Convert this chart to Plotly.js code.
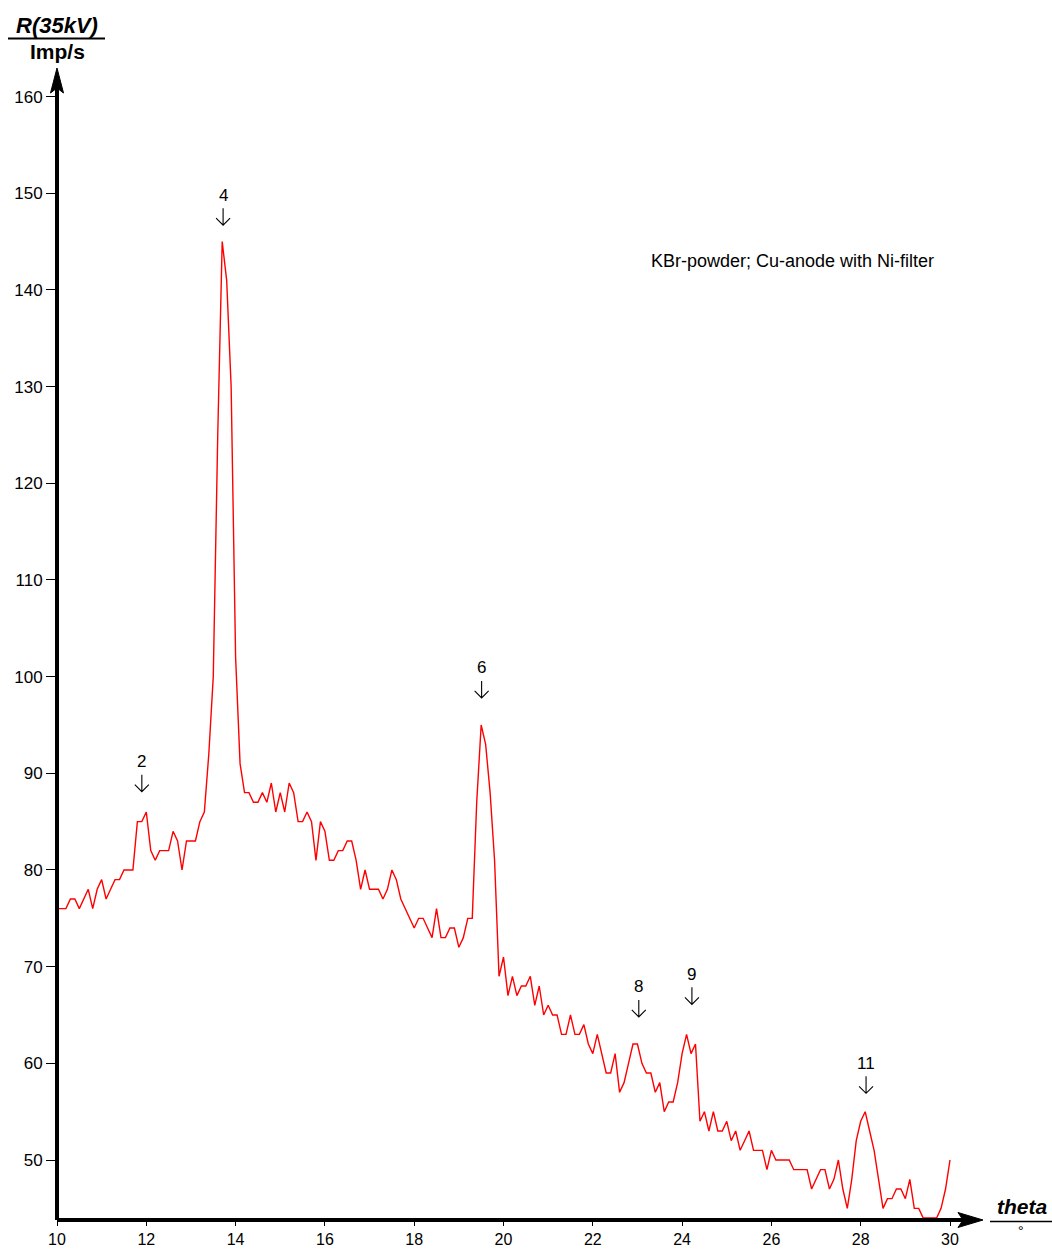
<!DOCTYPE html>
<html>
<head>
<meta charset="utf-8">
<script src="https://cdn.plot.ly/plotly-3.0.1.min.js"></script>
<style>html,body{margin:0;padding:0;background:#fff;}#chart{width:1052px;height:1250px;}</style>
</head>
<body>
<div id="chart"></div>
<script>
// ---- data ----
const theta0 = 10;        // first angle, degrees
const thetaStep = 0.1;    // angle step, degrees
const rate = [
  76, 76, 76, 77, 77, 76, 77, 78, 76, 78,   // 10.0 - 10.9
  79, 77, 78, 79, 79, 80, 80, 80, 85, 85,   // 11
  86, 82, 81, 82, 82, 82, 84, 83, 80, 83,   // 12
  83, 83, 85, 86, 92, 100, 125, 145, 141, 130, // 13
  102, 91, 88, 88, 87, 87, 88, 87, 89, 86,  // 14
  88, 86, 89, 88, 85, 85, 86, 85, 81, 85,   // 15
  84, 81, 81, 82, 82, 83, 83, 81, 78, 80,   // 16
  78, 78, 78, 77, 78, 80, 79, 77, 76, 75,   // 17
  74, 75, 75, 74, 73, 76, 73, 73, 74, 74,   // 18
  72, 73, 75, 75, 87, 95, 93, 88, 81, 69,   // 19
  71, 67, 69, 67, 68, 68, 69, 66, 68, 65,   // 20
  66, 65, 65, 63, 63, 65, 63, 63, 64, 62,   // 21
  61, 63, 61, 59, 59, 61, 57, 58, 60, 62,   // 22
  62, 60, 59, 59, 57, 58, 55, 56, 56, 58,   // 23
  61, 63, 61, 62, 54, 55, 53, 55, 53, 53,   // 24
  54, 52, 53, 51, 52, 53, 51, 51, 51, 49,   // 25
  51, 50, 50, 50, 50, 49, 49, 49, 49, 47,   // 26
  48, 49, 49, 47, 48, 50, 47, 45, 48, 52,   // 27
  54, 55, 53, 51, 48, 45, 46, 46, 47, 47,   // 28
  46, 48, 45, 45, 44, 44, 44, 44, 45, 47,   // 29
  50                                        // 30.0
];
const xTickVals = [10, 12, 14, 16, 18, 20, 22, 24, 26, 28, 30];
const yTickVals = [50, 60, 70, 80, 90, 100, 110, 120, 130, 140, 150, 160];
const peakLabels = ['2', '4', '6', '8', '9', '11'];
const peakTheta  = [11.9, 13.72, 19.51, 23.03, 24.22, 28.12];
const peakArrowTip = [88.1, 146.7, 97.8, 64.8, 66.1, 56.9];
const noteText = 'KBr-powder; Cu-anode with Ni-filter';

// ---- layout geometry ----
const W = 1052, H = 1250;
const M = {l: 57, r: 69, t: 68, b: 30};
const plotW = W - M.l - M.r, plotH = H - M.t - M.b;
const pxPerDeg = 44.65, pxPerUnit = 9.667;
const xMax = 10 + plotW / pxPerDeg;
const yMin = 50 - (H - M.b - 1160) / pxPerUnit;
const yMax = yMin + plotH / pxPerUnit;
const px = v => (v - M.l) / plotW;
const py = v => (H - M.b - v) / plotH;
const P = (a, b) => px(a).toFixed(5) + ',' + py(b).toFixed(5);

const FONT = 'Liberation Sans, Arial, sans-serif';

const trace = {
  type: 'scatter', mode: 'lines',
  x0: theta0, dx: thetaStep, y: rate,
  line: {color: 'rgb(255,0,0)', width: 1.4},
  hoverinfo: 'skip', showlegend: false
};

const shapes = [
  {type: 'line', xref: 'paper', yref: 'paper', x0: 0, x1: 0, y0: 0, y1: py(85), line: {color: '#000', width: 4}},
  {type: 'line', xref: 'paper', yref: 'paper', x0: 0, x1: px(968), y0: 0, y1: 0, line: {color: '#000', width: 4}},
  {type: 'path', xref: 'paper', yref: 'paper',
   path: 'M' + P(57, 68) + ' L' + P(50.5, 93) + ' L' + P(57, 88) + ' L' + P(63.5, 93) + ' Z',
   fillcolor: '#000', line: {color: '#000', width: 1}},
  {type: 'path', xref: 'paper', yref: 'paper',
   path: 'M' + P(983, 1220) + ' L' + P(958, 1212.5) + ' L' + P(963, 1220) + ' L' + P(958, 1227.5) + ' Z',
   fillcolor: '#000', line: {color: '#000', width: 1}},
  {type: 'line', xref: 'paper', yref: 'paper', x0: px(8), x1: px(105), y0: py(38.5), y1: py(38.5), line: {color: '#000', width: 2}},
  {type: 'line', xref: 'paper', yref: 'paper', x0: px(990), x1: px(1052), y0: py(1221.5), y1: py(1221.5), line: {color: '#000', width: 1.5}}
];

const annotations = [
  {xref: 'paper', yref: 'paper', x: px(57), y: py(25), text: 'R(35kV)', showarrow: false,
   xanchor: 'center', yanchor: 'middle', font: {family: FONT, size: 22, color: '#000', style: 'italic', weight: 'bold'}},
  {xref: 'paper', yref: 'paper', x: px(57), y: py(51), text: 'Imp/s', showarrow: false,
   xanchor: 'center', yanchor: 'middle', font: {family: FONT, size: 21, color: '#000', weight: 'bold'}},
  {xref: 'paper', yref: 'paper', x: px(1022), y: py(1206), text: 'theta', showarrow: false,
   xanchor: 'center', yanchor: 'middle', font: {family: FONT, size: 21, color: '#000', style: 'italic', weight: 'bold'}},
  {xref: 'paper', yref: 'paper', x: px(1021), y: py(1231), text: '°', showarrow: false,
   xanchor: 'center', yanchor: 'middle', font: {family: FONT, size: 14, color: '#000'}},
  {xref: 'paper', yref: 'paper', x: px(792.5), y: py(261), text: noteText, showarrow: false,
   xanchor: 'center', yanchor: 'middle', font: {family: FONT, size: 18, color: '#000'}}
];
peakLabels.forEach((lab, i) => {
  // open arrow pointing down, tip at the annotated position (pixel-sized shape)
  shapes.push({type: 'path', xref: 'x', yref: 'y', xsizemode: 'pixel', ysizemode: 'pixel',
    xanchor: peakTheta[i], yanchor: peakArrowTip[i],
    path: 'M0,17 L0,0 M-7,7 L0,0 L7,7',
    line: {color: '#000', width: 1.1}});
  annotations.push({xref: 'x', yref: 'y', x: peakTheta[i], y: peakArrowTip[i], text: lab, showarrow: false,
    xanchor: 'center', yanchor: 'middle', yshift: 30, font: {family: FONT, size: 17, color: '#000'}});
});

const layout = {
  width: W, height: H,
  margin: M,
  paper_bgcolor: '#fff', plot_bgcolor: '#fff',
  showlegend: false,
  xaxis: {
    range: [10, xMax], tickmode: 'array', tickvals: xTickVals, ticktext: xTickVals.map(String),
    ticks: 'outside', ticklen: 5, tickwidth: 1, tickcolor: '#000',
    showline: false, showgrid: false, zeroline: false,
    tickfont: {family: FONT, size: 16, color: '#000'}, fixedrange: true
  },
  yaxis: {
    range: [yMin, yMax], tickmode: 'array', tickvals: yTickVals, ticktext: yTickVals.map(String),
    ticks: 'outside', ticklen: 10, tickwidth: 1, tickcolor: '#000',
    showline: false, showgrid: false, zeroline: false,
    tickfont: {family: FONT, size: 17, color: '#000'}, fixedrange: true
  },
  shapes: shapes,
  annotations: annotations
};

Plotly.newPlot('chart', [trace], layout, {displayModeBar: false, staticPlot: true});
</script>
</body>
</html>
